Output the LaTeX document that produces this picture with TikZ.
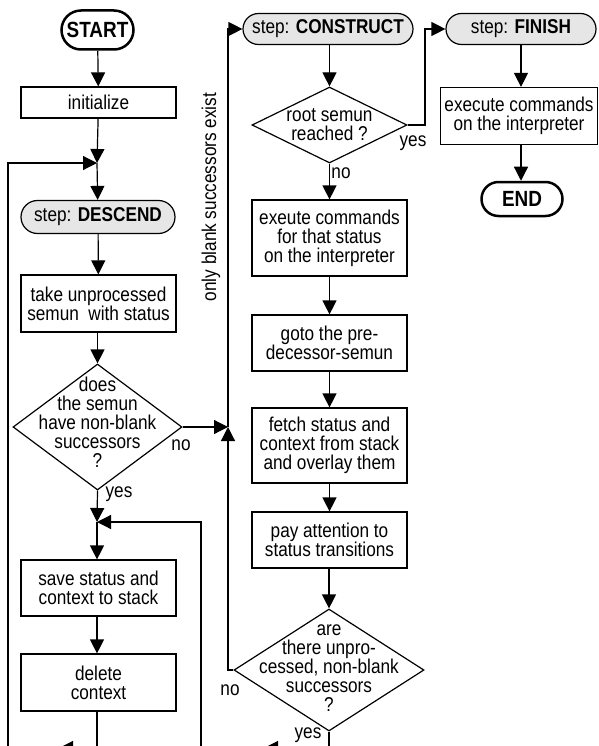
\documentclass[tikz,border=0pt]{standalone}
\usepackage{fontspec}
\setmainfont{Liberation Sans}[FakeStretch=0.86]
\usetikzlibrary{arrows.meta,shapes.geometric,shapes.misc}
\definecolor{stepgray}{HTML}{E6E6E6}
\begin{document}
\begin{tikzpicture}[x=1pt,y=-1pt,
  every node/.style={font=\fontsize{20}{19}\selectfont, inner sep=0pt},
  arr/.style={line width=1.2pt, -{Triangle[width=14pt,length=14pt]}},
  box/.style={draw, line width=1.2pt, rectangle, align=center, fill=white},
  terminal/.style={draw, line width=2.5pt, rounded rectangle, fill=white,
    font=\fontsize{22}{22}\selectfont\bfseries},
  stepbox/.style={draw, line width=1.2pt, rounded rectangle, fill=stepgray},
  decision/.style={draw, line width=1.2pt, diamond, inner sep=0pt, fill=white},
  dtext/.style={align=center}
]
\useasboundingbox (0,0) rectangle (598,746);
\clip (0,0) rectangle (598,746);

% ---- left column: descend phase
\node[terminal, minimum width=72pt, minimum height=39pt] (start) at (97.5,30) {START};
\node[box, minimum width=155pt, minimum height=31pt] (init) at (98.5,102.5) {initialize};
\coordinate (j1) at (97,163);
\node[stepbox, minimum width=154pt, minimum height=33pt] (descend) at (98,217) {step: \textbf{DESCEND}};
\node[box, minimum width=155pt, minimum height=57pt] (take) at (98.5,303.5) {take unprocessed\\semun\ \ with status};
\node[decision, minimum width=169pt, minimum height=126pt] (dec1) at (97.5,427) {};
\node[dtext] (dec1t) at (97.5,422.5) {does\\the semun\\have non-blank\\successors\\?};
\coordinate (j2) at (97,522);
\node[box, minimum width=155pt, minimum height=56pt] (save) at (98.5,588) {save status and\\context to stack};
\node[box, minimum width=155pt, minimum height=57pt] (del) at (98.5,682.5) {delete\\context};

% ---- middle column: construct phase
\node[stepbox, minimum width=170pt, minimum height=31pt] (construct) at (328,29) {step: \textbf{CONSTRUCT}};
\node[decision, minimum width=155pt, minimum height=76pt] (dec2) at (329.5,125) {};
\node[dtext] (dec2t) at (329.5,125) {root semun\\reached ?};
\node[box, minimum width=155pt, minimum height=76pt] (exec) at (329.5,238) {exeute commands\\for that status\\on the interpreter};
\node[box, minimum width=155pt, minimum height=56pt] (goto) at (329.5,343) {goto the pre-\\decessor-semun};
\node[box, minimum width=155pt, minimum height=75pt] (fetch) at (329.5,445.5) {fetch status and\\context from stack\\and overlay them};
\node[box, minimum width=155pt, minimum height=56pt] (pay) at (329.5,540) {pay attention to\\status transitions};
\node[decision, minimum width=190pt, minimum height=122pt] (dec3) at (329,670) {};
\node[dtext] (dec3t) at (329,668) {are\\there unpro-\\cessed, non-blank\\successors\\?};
\coordinate (j3) at (228,427);

% ---- right column: finish phase
\node[stepbox, minimum width=150pt, minimum height=31pt] (finish) at (521,29) {step: \textbf{FINISH}};
\node[box, minimum width=157pt, minimum height=57pt] (execi) at (519,116) {execute commands\\on the interpreter};
\node[terminal, minimum width=81pt, minimum height=34pt] (end) at (522,199) {END};

% ---- branch labels
\node (no1) at (181,445) {no};
\node (yes1) at (119,494) {yes};
\node (no2) at (341,173) {no};
\node (yes2) at (413,143) {yes};
\node (no3) at (230,690) {no};
\node (yes3) at (308,735) {yes};
\node[rotate=90] (only) at (211,197) {only blank successors exist};

% ---- connectors, left column
\draw[arr] (start) -- (init);
\draw[arr] (init) -- (j1);
\draw[arr] (j1) -- (descend);
\draw[arr] (descend) -- (take);
\draw[arr] (take.south -| dec1.north) -- (dec1.north);
\draw[arr] (dec1.south) -- (j2);
\draw[arr] (j2) -- (save.north -| j2);
\draw[arr] (save.south -| j2) -- (del.north -| j2);
\draw[arr] (del.south -| j2) -- (97,748) -- (8,748) |- (j1);
\draw[arr] (97,748) -- (59,748);

% ---- connectors, middle column
\draw[arr] (dec1.east) -- (j3);
\draw[arr] (dec3.west) -- (j3 |- dec3.west) -- (j3);
\draw[arr] (j3) |- (construct.west);
\draw[arr] (construct.south -| dec2.north) -- (dec2.north);
\draw[arr] (dec2.south) -- (exec);
\draw[arr] (exec) -- (goto);
\draw[arr] (goto) -- (fetch);
\draw[arr] (fetch) -- (pay);
\draw[arr] (pay.south -| dec3.north) -- (dec3.north);
\draw[arr] (dec3.south) -- (329,748) -- (201,748) |- (j2);
\draw[arr] (329,748) -- (264,748);

% ---- connectors, right column
\draw[arr] (dec2.east) -- (425,125) |- (finish.west);
\draw[arr] (finish.south) -- (finish.south |- execi.north);
\draw[arr] (finish.south |- execi.south) -- (finish.south |- end.north);
\end{tikzpicture}
\end{document}
